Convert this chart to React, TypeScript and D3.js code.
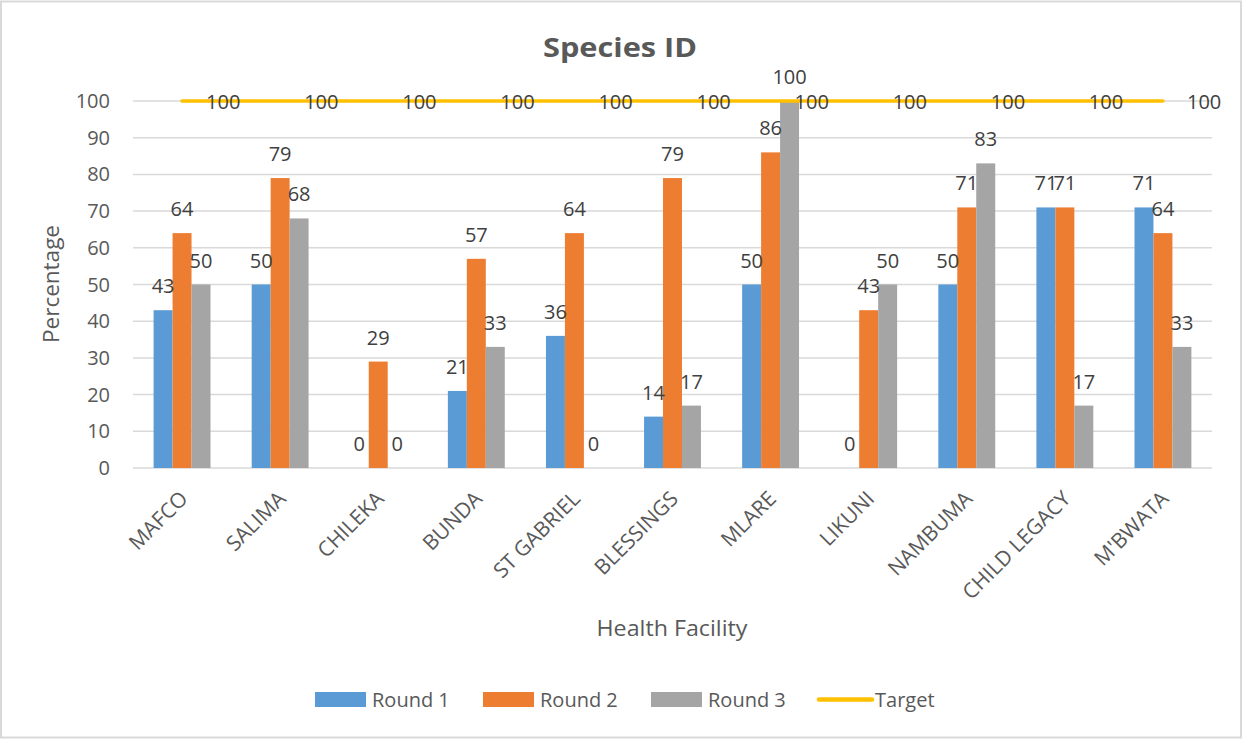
import React from "react";
import * as d3 from "d3";

const facilities = [
  "MAFCO",
  "SALIMA",
  "CHILEKA",
  "BUNDA",
  "ST GABRIEL",
  "BLESSINGS",
  "MLARE",
  "LIKUNI",
  "NAMBUMA",
  "CHILD LEGACY",
  "M'BWATA",
];
const round1 = [43, 50, 0, 21, 36, 14, 50, 0, 50, 71, 71];
const round2 = [64, 79, 29, 57, 64, 79, 86, 43, 71, 71, 64];
const round3 = [50, 68, 0, 33, 0, 17, 100, 50, 83, 17, 33];
const target = [100, 100, 100, 100, 100, 100, 100, 100, 100, 100, 100];
const yTicks = [0, 10, 20, 30, 40, 50, 60, 70, 80, 90, 100];

const seriesNames = ["Round 1", "Round 2", "Round 3"];
const seriesValues = [round1, round2, round3];
const seriesColors = ["#5B9BD5", "#ED7D31", "#A5A5A5"];
const targetColor = "#FFC000";

const W = 1247;
const H = 739;
const plot = { left: 133, right: 1212, top: 101, bottom: 468 };
const FONT = "'Open Sans', 'Noto Sans', sans-serif";
const AXIS_TEXT = "#595959";
const LABEL_TEXT = "#404040";
const GRID = "#D9D9D9";
const FS = 20;

export default function App() {
  const x = d3
    .scaleBand<string>()
    .domain(facilities)
    .range([plot.left, plot.right])
    .paddingInner(0)
    .paddingOuter(0);
  const groupWidth = x.bandwidth() * 0.58;
  const inner = d3
    .scaleBand<string>()
    .domain(seriesNames)
    .range([-groupWidth / 2, groupWidth / 2]);
  const y = d3.scaleLinear().domain([0, 100]).range([plot.bottom, plot.top]);
  const center = (f: string) => (x(f) ?? 0) + x.bandwidth() / 2;

  const targetLine = d3
    .line<number>()
    .x((_, i) => center(facilities[i]))
    .y((d) => y(d));

  const legendItems = [
    { name: "Round 1", color: seriesColors[0], sx: 315, tx: 372 },
    { name: "Round 2", color: seriesColors[1], sx: 483, tx: 540 },
    { name: "Round 3", color: seriesColors[2], sx: 651, tx: 708 },
  ];

  return (
    <svg
      width={W}
      height={H}
      style={{ position: "absolute", left: 0, top: 0, background: "#fff" }}
      fontFamily={FONT}
    >
      <rect x={1} y={1.5} width={1240} height={736} fill="#fff" stroke={GRID} strokeWidth={2} />

      <text
        x={620}
        y={57}
        textAnchor="middle"
        fontSize={27}
        fontWeight="bold"
        fill={AXIS_TEXT}
        textLength={154}
        lengthAdjust="spacingAndGlyphs"
      >
        Species ID
      </text>

      {/* gridlines and y tick labels */}
      {yTicks.map((t) => (
        <g key={t}>
          <line
            x1={plot.left}
            x2={plot.right}
            y1={y(t)}
            y2={y(t)}
            stroke={GRID}
            strokeWidth={1.5}
          />
          <text x={110} y={y(t) + 7} textAnchor="end" fontSize={FS} fill={AXIS_TEXT}>
            {t}
          </text>
        </g>
      ))}

      {/* bars */}
      {seriesValues.map((vals, si) =>
        vals.map((v, i) => {
          const bx = center(facilities[i]) + (inner(seriesNames[si]) ?? 0);
          return (
            <rect
              key={`b${si}-${i}`}
              x={bx}
              y={y(v)}
              width={inner.bandwidth()}
              height={y(0) - y(v)}
              fill={seriesColors[si]}
            />
          );
        })
      )}

      {/* target line */}
      <path
        d={targetLine(target) ?? ""}
        fill="none"
        stroke={targetColor}
        strokeWidth={3.5}
        strokeLinecap="round"
      />

      {/* bar value labels */}
      {seriesValues.map((vals, si) =>
        vals.map((v, i) => {
          const cx =
            center(facilities[i]) + (inner(seriesNames[si]) ?? 0) + inner.bandwidth() / 2;
          return (
            <text
              key={`l${si}-${i}`}
              x={cx}
              y={y(v) - 17}
              textAnchor="middle"
              fontSize={FS}
              fill={LABEL_TEXT}
            >
              {v}
            </text>
          );
        })
      )}

      {/* target value labels */}
      {target.map((v, i) => (
        <text
          key={`t${i}`}
          x={center(facilities[i]) + 24}
          y={y(v) + 8}
          fontSize={FS}
          fill={LABEL_TEXT}
        >
          {v}
        </text>
      ))}

      {/* category labels */}
      {facilities.map((f) => (
        <text
          key={f}
          transform={`translate(${center(f) + 7},${500}) rotate(-45)`}
          textAnchor="end"
          fontSize={21}
          fill={AXIS_TEXT}
        >
          {f}
        </text>
      ))}

      {/* axis titles */}
      <text
        transform={`translate(59,284) rotate(-90)`}
        textAnchor="middle"
        fontSize={21}
        fill={AXIS_TEXT}
        textLength={118}
        lengthAdjust="spacingAndGlyphs"
      >
        Percentage
      </text>
      <text
        x={672}
        y={636}
        textAnchor="middle"
        fontSize={21}
        fill={AXIS_TEXT}
        textLength={151}
        lengthAdjust="spacingAndGlyphs"
      >
        Health Facility
      </text>

      {/* legend */}
      {legendItems.map((it) => (
        <g key={it.name}>
          <rect x={it.sx} y={692} width={51} height={15} fill={it.color} />
          <text x={it.tx} y={707} fontSize={FS} fill={AXIS_TEXT}>
            {it.name}
          </text>
        </g>
      ))}
      <line
        x1={819}
        x2={872}
        y1={699.5}
        y2={699.5}
        stroke={targetColor}
        strokeWidth={4.5}
        strokeLinecap="round"
      />
      <text x={875} y={707} fontSize={FS} fill={AXIS_TEXT}>
        Target
      </text>
    </svg>
  );
}
